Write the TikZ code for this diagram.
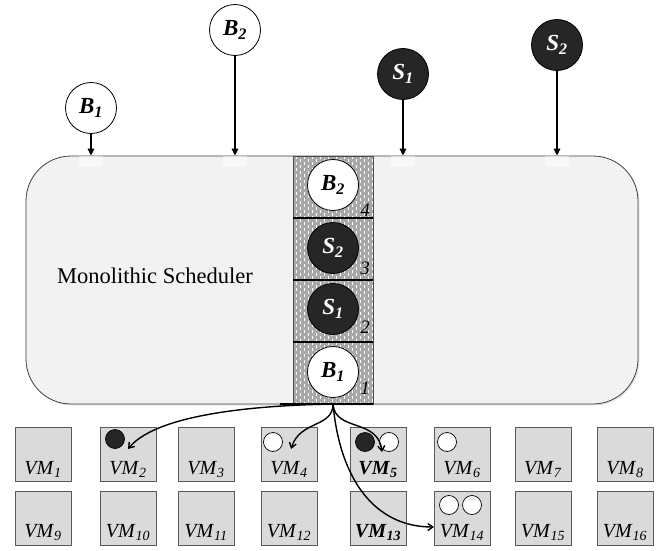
\documentclass[tikz,border=0pt]{standalone}
\usepackage{fontspec}
\setmainfont{Liberation Serif}
\usetikzlibrary{arrows.meta,shadows}
\newcommand\joblab[2]{\textbf{\textit{#1}}\textsubscript{\textbf{\textit{#2}}}}
\newcommand\vmlab[1]{\textit{VM}\textsubscript{\textit{#1}}}
\newcommand\vmbold[1]{\textbf{\textit{VM}}\textsubscript{\textbf{\textit{#1}}}}
\definecolor{panel}{HTML}{F2F2F2}
\definecolor{queuegray}{HTML}{A8A8A8}
\definecolor{vmfill}{HTML}{DADADA}
\definecolor{darkjob}{HTML}{262626}
\begin{document}
\begin{tikzpicture}[x=1pt,y=-1pt,
  job/.style={circle, draw=black, line width=0.8pt, minimum size=51pt, inner sep=0pt,
    font=\fontsize{23}{23}\selectfont},
  wjob/.style={job, fill=white, text=black},
  bjob/.style={job, fill=darkjob, text=white},
  vmbox/.style={draw=gray!70!black, fill=vmfill, minimum width=56pt, minimum height=54pt,
    inner sep=0pt, line width=0.6pt, drop shadow={opacity=0.2, shadow xshift=1pt, shadow yshift=-1pt}},
  vmtext/.style={font=\fontsize{20}{20}\selectfont, inner sep=0pt},
  tok/.style={circle, draw=black, line width=0.7pt, minimum size=19pt, inner sep=0pt},
  wtok/.style={tok, fill=white},
  btok/.style={tok, fill=darkjob},
  feed/.style={-{Triangle[length=7pt,width=6.5pt]}, line width=1.8pt},
  place/.style={-{Straight Barb[length=5pt,width=7pt]}, line width=1.4pt},
  port/.style={fill=white, opacity=0.5, minimum width=24pt, minimum height=11pt, inner sep=0pt},
  slotno/.style={font=\fontsize{19}{19}\selectfont\itshape, inner sep=0pt}
]
\useasboundingbox (0,0) rectangle (664,551);

% scheduler body
\node[draw=black!75, line width=0.8pt, fill=panel, rounded corners=45pt,
      minimum width=612pt, minimum height=248pt, inner sep=0pt,
      drop shadow={opacity=0.2, shadow xshift=1.5pt, shadow yshift=-1.5pt}] (sched) at (332,280) {};
\node[font=\fontsize{22.5}{22.5}\selectfont] (title) at (155,276) {Monolithic Scheduler};

% job queue column
\begin{scope}
  \clip (293,156) rectangle (373,404);
  \fill[queuegray] (293,156) rectangle (373,404);
  \foreach \x in {296,304,...,372}
    \draw[white, line width=0.7pt, dash pattern=on 3pt off 3pt] (\x,156) -- (\x,404);
  \foreach \x in {300,308,...,372}
    \draw[white, line width=0.7pt, dash pattern=on 3pt off 3pt, dash phase=3pt] (\x,156) -- (\x,404);
\end{scope}
\draw[black!70, line width=0.6pt] (293,156) rectangle (373,404);
\foreach \y in {218,280,342}
  \draw[line width=1.8pt] (293,\y) -- (373,\y);
\draw[line width=1.5pt] (280,404) -- (373,404);

\node[wjob] (q4) at (333,185) {\joblab{B}{2}};
\node[bjob] (q3) at (333,248) {\joblab{S}{2}};
\node[bjob] (q2) at (333,309) {\joblab{S}{1}};
\node[wjob] (q1) at (333,372) {\joblab{B}{1}};
\node[slotno] (n4) at (365,210) {4};
\node[slotno] (n3) at (365,268) {3};
\node[slotno] (n2) at (365,327) {2};
\node[slotno] (n1) at (365,388) {1};

% incoming jobs
\node[wjob] (t1) at (91,108) {\joblab{B}{1}};
\node[wjob] (t2) at (235,30) {\joblab{B}{2}};
\node[bjob] (t3) at (403,74) {\joblab{S}{1}};
\node[bjob] (t4) at (557,45) {\joblab{S}{2}};
\foreach \t in {t1,t2,t3,t4}{
  \node[port, anchor=north] (p\t) at (\t |- sched.north) {};
  \draw[feed] (\t.south) -- (\t |- sched.north);
}

% virtual machines
\foreach \x [count=\i] in {43,128,206,289,378,462,543,625}{
  \node[vmbox] (vm\i) at (\x,454) {};
  \pgfmathtruncatemacro{\j}{\i+8}
  \node[vmbox] (vm\j) at (\x,518) {};
}
\foreach \i in {1,2,3,4,6,7,8}
  \node[vmtext] (l\i) at ([yshift=12pt]vm\i.south) {\vmlab{\i}};
\node[vmtext] (l5) at ([yshift=12pt]vm5.south) {\vmbold{5}};
\foreach \i in {9,10,11,12,14,15,16}
  \node[vmtext] (l\i) at ([yshift=13pt]vm\i.south) {\vmlab{\i}};
\node[vmtext] (l13) at ([yshift=13pt]vm13.south) {\vmbold{13}};

% placed tasks
\node[btok] (k2) at (115,439) {};
\node[wtok] (k4) at (273,442) {};
\node[btok] (k5a) at (365,442) {};
\node[wtok] (k5b) at (389,442) {};
\node[wtok] (k6) at (447,442) {};
\node[wtok] (k14a) at (449,505) {};
\node[wtok] (k14b) at (472,505) {};

% placement decisions
\coordinate (src) at (333,404);
\coordinate (d2) at (128,449);
\coordinate (d4) at (291,449);
\coordinate (d5) at (382,452);
\coordinate (d14) at (434,527);
\draw[place] (src) .. controls (280,405) and (160,410) .. (d2);
\draw[place] (src) .. controls (333,428) and (300,420) .. (d4);
\draw[place] (src) .. controls (335,432) and (378,418) .. (d5);
\draw[place] (src) .. controls (340,480) and (375,527) .. (d14);
\end{tikzpicture}
\end{document}
